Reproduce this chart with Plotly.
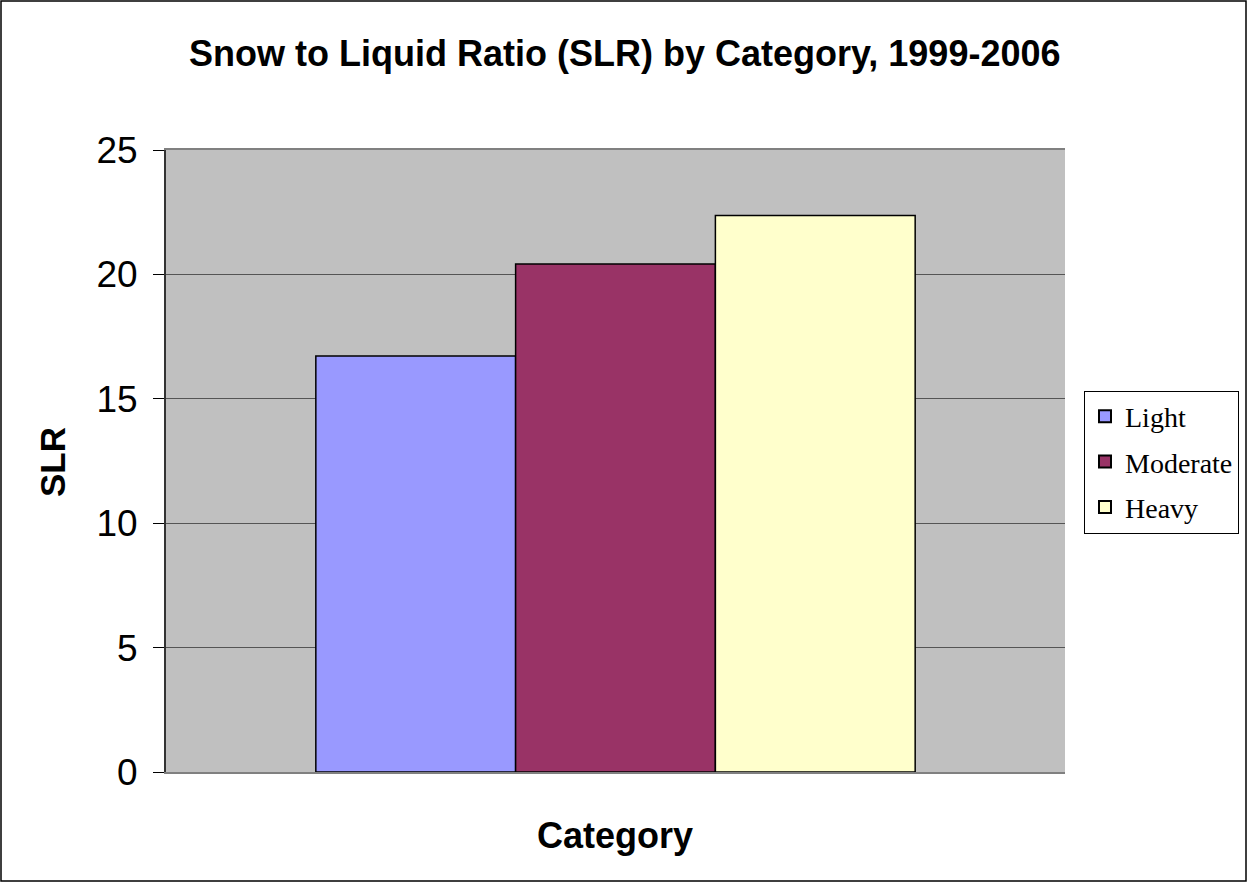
import plotly.graph_objects as go

categories = ["Light", "Moderate", "Heavy"]
slr_values = [16.72, 20.42, 22.37]
bar_colors = ["#9999FF", "#993366", "#FFFFCC"]
y_ticks = [0, 5, 10, 15, 20, 25]

W, H = 1247, 882
L, R, T, B = 166, 182, 150, 110
pw, ph = W - L - R, H - T - B

fig = go.Figure()
for name, val, col in zip(categories, slr_values, bar_colors):
    fig.add_trace(go.Bar(
        x=["SLR"], y=[val], name=name, legendgroup=name,
        marker=dict(color=col, line=dict(color="#000000", width=1.5)),
    ))

fig.update_layout(
    width=W, height=H,
    margin=dict(l=L, r=R, t=T, b=B, autoexpand=False),
    paper_bgcolor="white",
    plot_bgcolor="#C0C0C0",
    barmode="group",
    bargap=1/3,
    bargroupgap=0,
    font=dict(family="Arial, Liberation Sans", color="black"),
    showlegend=True,
    legend=dict(
        xref="container", yref="container",
        x=1084 / W, xanchor="left",
        y=1 - 462 / H, yanchor="middle",
        bgcolor="white", bordercolor="#000000", borderwidth=1,
        font=dict(family="Liberation Serif", size=28, color="black"),
        tracegroupgap=6,
        itemsizing="constant",
    ),
    xaxis=dict(
        showticklabels=False, ticks="", showgrid=False,
        showline=True, linecolor="#808080", linewidth=2, mirror=True,
    ),
    yaxis=dict(
        range=[0, 25], tickvals=y_ticks,
        showgrid=True, gridcolor="#555555", gridwidth=1,
        showline=True, linecolor="#333333", linewidth=2,
        ticks="outside", ticklen=11, tickcolor="#000000", tickwidth=1,
        tickfont=dict(size=37, family="Arial, Liberation Sans"),
        ticklabelstandoff=8,
        zeroline=False,
    ),
    annotations=[
        dict(text="<b>Snow to Liquid Ratio (SLR) by Category, 1999-2006</b>",
             xref="paper", yref="paper", x=(624 - L) / pw, y=(H - B - 54) / ph,
             xanchor="center", yanchor="middle", showarrow=False,
             font=dict(size=36, family="Arial, Liberation Sans")),
        dict(text="<b>Category</b>",
             xref="paper", yref="paper", x=(615 - L) / pw, y=-(835 - (H - B)) / ph,
             xanchor="center", yanchor="middle", showarrow=False,
             font=dict(size=36, family="Arial, Liberation Sans")),
        dict(text="<b>SLR</b>", textangle=-90,
             xref="paper", yref="paper", x=(52 - L) / pw, y=(H - B - 462) / ph,
             xanchor="center", yanchor="middle", showarrow=False,
             font=dict(size=35, family="Arial, Liberation Sans")),
    ],
    shapes=[
        dict(type="rect", xref="paper", yref="paper",
             x0=(1 - L) / pw, x1=(W - 1 - L) / pw,
             y0=-(B - 1) / ph, y1=1 + (T - 1) / ph,
             line=dict(color="#000000", width=1.5), layer="below"),
    ],
)

fig.write_html(
    "out.html",
    config={"displayModeBar": False},
    post_script="document.body.style.margin='0';document.body.style.overflow='hidden';",
)
